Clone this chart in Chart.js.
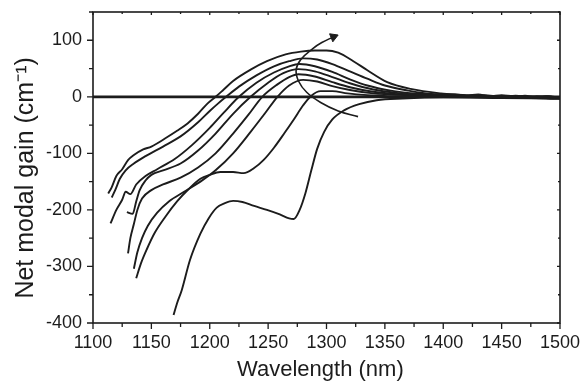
<!DOCTYPE html>
<html>
<head>
<meta charset="utf-8">
<script src="https://cdn.jsdelivr.net/npm/chart.js"></script>
<style>
    html, body { margin: 0; padding: 0; background: #fff; }
    #wrap { width: 584px; height: 383px; }
</style>
</head>
<body>
<div id="wrap"><canvas id="gain-chart" width="584" height="383"></canvas></div>
<script>
// wavelength (nm) / net modal gain (cm-1), one pair of arrays per trace
const wl1 = [1113, 1116, 1120, 1125, 1130, 1135, 1143, 1150, 1163, 1172, 1181, 1190, 1198, 1205, 1212, 1220, 1235, 1249, 1265, 1278, 1290, 1300, 1310, 1323, 1335, 1352, 1372, 1398, 1410, 1420, 1430, 1440, 1450, 1460, 1470, 1480, 1490, 1500];
const g1  = [-171, -160, -140, -128, -112, -103, -93, -88, -72, -60, -47, -30, -12, 0, 13, 28, 48, 63, 75, 80, 82, 82, 78, 63, 47, 26, 14, 6, 4, 3, 4, 1, 3, 0, 2, -1, 1, -2];

const wl2 = [1116, 1119, 1123, 1128, 1135, 1145, 1160, 1175, 1190, 1200, 1207, 1214, 1225, 1240, 1255, 1268, 1280, 1292, 1305, 1320, 1335, 1350, 1370, 1390, 1410, 1425, 1435, 1450, 1462, 1475, 1488, 1500];
const g2  = [-178, -165, -145, -130, -118, -105, -88, -70, -45, -25, -12, 0, 18, 38, 54, 63, 68, 66, 58, 45, 32, 20, 11, 5, 4, 2, 3, 0, 2, -1, 1, -3];

const wl3 = [1115, 1120, 1125, 1128, 1132, 1137, 1145, 1155, 1170, 1185, 1200, 1212, 1225, 1240, 1255, 1268, 1277, 1290, 1305, 1320, 1335, 1355, 1375, 1400, 1415, 1428, 1440, 1455, 1468, 1480, 1492, 1500];
const g3  = [-224, -200, -182, -168, -172, -155, -140, -128, -110, -85, -55, -28, 0, 25, 43, 54, 58, 54, 44, 31, 20, 11, 6, 3, 1, 3, -1, 2, -2, 0, -3, -2];

const wl4 = [1129, 1134, 1137, 1140, 1145, 1150, 1160, 1175, 1190, 1205, 1220, 1235, 1250, 1263, 1276, 1290, 1305, 1320, 1340, 1360, 1385, 1420, 1455, 1480, 1500];
const g4  = [-204, -207, -185, -165, -148, -138, -130, -118, -95, -65, -30, 0, 25, 42, 49, 45, 35, 24, 13, 7, 3, 1, -1, 1, -2];

const wl5 = [1130, 1132, 1135, 1138, 1142, 1150, 1160, 1175, 1190, 1205, 1220, 1233, 1245, 1258, 1268, 1276, 1290, 1305, 1320, 1340, 1365, 1400, 1445, 1500];
const g5  = [-277, -250, -225, -200, -180, -165, -155, -143, -125, -100, -65, -32, 0, 22, 35, 40, 36, 26, 17, 9, 4, 2, 0, -2];

const wl6 = [1135, 1138, 1142, 1147, 1155, 1165, 1178, 1192, 1205, 1220, 1235, 1247, 1258, 1268, 1280, 1292, 1305, 1320, 1340, 1370, 1400, 1450, 1500];
const g6  = [-304, -275, -250, -228, -205, -185, -168, -150, -130, -100, -62, -30, 0, 20, 30, 27, 19, 12, 6, 3, 1, -1, -3];

const wl7 = [1137, 1141, 1146, 1153, 1162, 1172, 1182, 1192, 1200, 1209, 1220, 1229, 1238, 1246, 1255, 1264, 1272, 1280, 1287, 1295, 1305, 1318, 1335, 1360, 1400, 1440, 1500];
const g7  = [-321, -295, -270, -240, -212, -185, -163, -145, -138, -133, -133, -135, -126, -112, -90, -64, -40, -15, 2, 10, 10, 6, 3, 1, 0, -1, -3];

const wl8 = [1169, 1172, 1176, 1183, 1192, 1199, 1206, 1213, 1220, 1228, 1238, 1249, 1260, 1268, 1272, 1277, 1282, 1287, 1292, 1298, 1305, 1315, 1328, 1343, 1365, 1400, 1450, 1500];
const g8  = [-386, -365, -342, -289, -242, -215, -196, -188, -184, -186, -193, -200, -208, -215, -216, -200, -170, -130, -92, -62, -40, -24, -13, -6, -3, -1, -2, -3];

// curved arrow drawn across the gain peaks
const arrowWl   = [1327, 1310, 1295, 1283, 1276, 1274, 1278, 1288, 1296, 1306];
const arrowGain = [-35, -25, -10, 8, 28, 48, 66, 85, 96, 106];

const xTickLabels = [1100, 1150, 1200, 1250, 1300, 1350, 1400, 1450, 1500];
const yTickLabels = [-400, -300, -200, -100, 0, 100];

const wlSets = [wl1, wl2, wl3, wl4, wl5, wl6, wl7, wl8];
const gSets = [g1, g2, g3, g4, g5, g6, g7, g8];

function toPoints(xs, ys) {
    return xs.map((x, i) => ({ x: x, y: ys[i] }));
}

const ink = '#1c1c1c';
const fontFamily = "'Liberation Sans', Arial, Helvetica, sans-serif";

const datasets = [{
    data: toPoints([1100, 1500], [0, 0]),
    borderColor: ink,
    borderWidth: 2.8,
    pointRadius: 0,
    tension: 0
}];

wlSets.forEach((xs, i) => {
    datasets.push({
        data: toPoints(xs, gSets[i]),
        borderColor: ink,
        borderWidth: 1.9,
        pointRadius: 0,
        cubicInterpolationMode: 'monotone'
    });
});

datasets.push({
    data: toPoints(arrowWl, arrowGain),
    borderColor: ink,
    borderWidth: 1.6,
    tension: 0.4,
    pointStyle: 'triangle',
    pointRadius: arrowWl.map((_, i) => i === arrowWl.length - 1 ? 5 : 0),
    pointRotation: 68,
    pointBackgroundColor: ink,
    pointBorderColor: ink,
    pointBorderWidth: 1
});

// frame plus major/minor tick marks on all four sides
const frameTicks = {
    id: 'frameTicks',
    afterDraw(chart) {
        const { ctx, chartArea: a, scales: { x, y } } = chart;
        ctx.save();
        ctx.strokeStyle = ink;
        ctx.lineWidth = 1.6;
        ctx.strokeRect(a.left, a.top, a.right - a.left, a.bottom - a.top);
        ctx.lineWidth = 1.3;
        ctx.beginPath();
        for (let v = 1100; v <= 1500; v += 25) {
            const px = x.getPixelForValue(v);
            const major = v % 50 === 0;
            ctx.moveTo(px, a.bottom);
            ctx.lineTo(px, a.bottom + (major ? 6 : 4));
            ctx.moveTo(px, a.top);
            ctx.lineTo(px, a.top + (major ? 3 : 2));
        }
        for (let v = -400; v <= 150; v += 50) {
            const py = y.getPixelForValue(v);
            const major = v % 100 === 0;
            ctx.moveTo(a.left, py);
            ctx.lineTo(a.left - (major ? 6 : 4), py);
            ctx.moveTo(a.right, py);
            ctx.lineTo(a.right - (major ? 3 : 2), py);
        }
        ctx.stroke();
        ctx.restore();
    }
};

new Chart(document.getElementById('gain-chart'), {
    type: 'line',
    data: { datasets: datasets },
    options: {
        responsive: false,
        animation: false,
        devicePixelRatio: 1,
        layout: { padding: { top: 12, right: 24, bottom: 0, left: 0 } },
        plugins: {
            legend: { display: false },
            tooltip: { enabled: false }
        },
        scales: {
            x: {
                type: 'linear',
                min: 1100,
                max: 1500,
                grid: { display: false, drawTicks: false },
                border: { display: false },
                afterFit: s => { s.height = 60; s.paddingLeft = 0; s.paddingRight = 0; },
                ticks: {
                    stepSize: 50,
                    autoSkip: false,
                    maxRotation: 0,
                    padding: 9,
                    color: ink,
                    font: { family: fontFamily, size: 18 },
                    callback: v => xTickLabels.includes(v) ? String(v) : ''
                },
                title: {
                    display: true,
                    text: 'Wavelength (nm)  ',
                    color: ink,
                    padding: { top: 0, bottom: 0 },
                    font: { family: fontFamily, size: 22 }
                }
            },
            y: {
                min: -400,
                max: 150,
                grid: { display: false, drawTicks: false },
                border: { display: false },
                afterFit: s => { s.width = 93; s.paddingTop = 0; s.paddingBottom = 0; },
                ticks: {
                    stepSize: 50,
                    padding: 11,
                    color: ink,
                    font: { family: fontFamily, size: 18 },
                    callback: v => yTickLabels.includes(v) ? String(v) : ''
                },
                title: {
                    display: true,
                    text: 'Net modal gain (cm\u207B\u00B9)   ',
                    color: ink,
                    padding: { top: 11, bottom: 0 },
                    font: { family: fontFamily, size: 25 }
                }
            }
        }
    },
    plugins: [frameTicks]
});
</script>
</body>
</html>
